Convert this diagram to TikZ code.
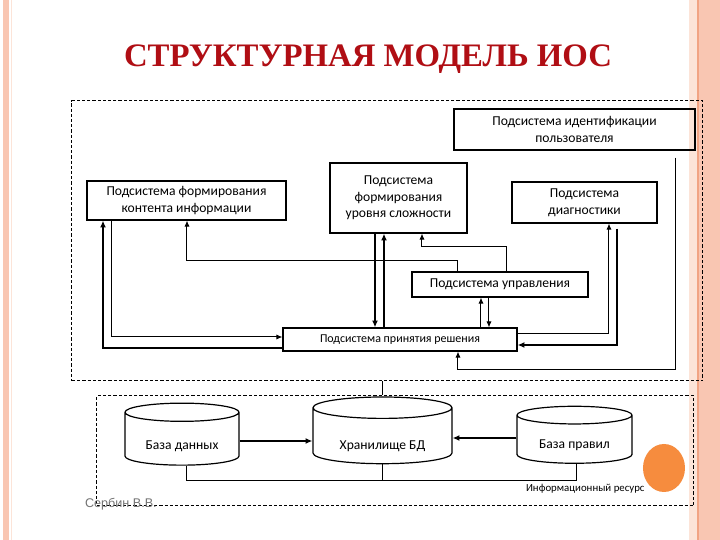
\documentclass[tikz,border=0pt]{standalone}
\usepackage{fontspec}
\setmainfont{Carlito}
\newfontfamily\titlefont{Liberation Serif}
\newfontfamily\authorfont{Liberation Sans}
\usetikzlibrary{arrows.meta,shapes.geometric}
\definecolor{titlered}{RGB}{176,14,20}
\definecolor{stripe}{RGB}{249,198,178}
\definecolor{stripelight}{RGB}{252,228,216}
\definecolor{stripeline}{RGB}{241,164,132}
\definecolor{dotorange}{RGB}{246,140,62}

\begin{document}
\begin{tikzpicture}[x=0.5pt, y=-0.5pt, every node/.style={font=\fontsize{6.8}{8.3}\selectfont}, box/.style={rectangle, draw=black, line width=0.6pt, align=center, inner sep=0pt}, frame/.style={rectangle, draw=black, dash pattern=on 1.6pt off 1pt, line width=0.5pt, inner sep=0pt}, base/.style={cylinder, shape border rotate=90, aspect=0.25, draw=black, line width=0.6pt, align=center, inner sep=0pt, text depth=1.5pt}, arrow/.style={-{Latex[length=3pt,width=2.6pt]}, line width=0.5pt}, fatarrow/.style={-{Latex[length=3.4pt,width=3pt]}, line width=1pt}, link/.style={line width=0.5pt}]
\useasboundingbox (0,0) rectangle (720,540);
% slide background
\fill[white] (0,0) rectangle (720,540);
\fill[stripe] (3,0) rectangle (9,540);
\draw[stripelight, line width=0.5pt] (11.5,0) -- (11.5,540);
\fill[stripelight] (689,0) rectangle (720,540);
\fill[stripe] (697,0) rectangle (720,540);
\draw[stripeline, line width=0.6pt] (698,0) -- (698,540);
% title
\node[font=\titlefont\bfseries\fontsize{16.4}{20}\selectfont, text=titlered] (title) at (368,59) {СТРУКТУРНАЯ МОДЕЛЬ ИОС};
% frames
\node[frame, minimum width=315.5pt, minimum height=140pt] (upper) at (387.5,241) {};
\node[frame, minimum width=298.5pt, minimum height=55pt] (lower) at (395.5,451) {};
% subsystems
\node[box, minimum width=120.5pt, minimum height=20.5pt] (ident) at (574.5,129.5) {Подсистема идентификации\\пользователя};
\node[box, minimum width=99.5pt, minimum height=19.5pt] (content) at (186.5,200.5) {Подсистема формирования\\контента информации};
\node[box, minimum width=68.5pt, minimum height=35pt] (level) at (398.5,198) {Подсистема\\формирования\\уровня сложности};
\node[box, minimum width=72.5pt, minimum height=20.5pt] (diag) at (584.5,202.5) {Подсистема\\диагностики};
\node[box, minimum width=88pt, minimum height=12.5pt] (control) at (500,284.5) {Подсистема управления};
\node[box, minimum width=117pt, minimum height=11.5pt, font=\fontsize{6}{7}\selectfont] (decision) at (400,339.5) {Подсистема принятия решения};
% information resource
\node[base, minimum width=57pt, minimum height=31pt, text height=12.5pt] (db) at (182,439) {База данных};
\node[base, minimum width=69.5pt, minimum height=30pt, text height=15.5pt] (store) at (382.5,436) {Хранилище БД};
\node[base, minimum width=57.5pt, minimum height=28.5pt, text height=10.5pt] (rules) at (574.5,439.5) {База правил};
\node[anchor=west, font=\fontsize{5.4}{6}\selectfont] (resource) at (519,489) {Информационный ресурс};
\node[ellipse, fill=dotorange, inner sep=0pt, minimum width=21pt, minimum height=24pt] (dot) at (664,468) {};
\node[anchor=west, text=black!55, font=\authorfont\fontsize{6.3}{7}\selectfont] (author) at (78,504) {Сербин В.В.};
% upper links
\draw[fatarrow] (decision.west |- 0,348) -| (content.south -| 103,0);
\draw[arrow] (content.south -| 112,0) |- (decision.west |- 0,337);
\draw[arrow] (control.north -| 458,0) |- (187,261) -- (content.south -| 187,0);
\draw[fatarrow] (level.south -| 375,0) -- (decision.north -| 375,0);
\draw[fatarrow] (decision.north -| 384,0) -- (level.south -| 384,0);
\draw[arrow] (control.north -| 507,0) |- (422,247) -- (level.south -| 422,0);
\draw[arrow] (decision.north -| 481,0) -- (control.south -| 481,0);
\draw[arrow] (control.south -| 489,0) -- (decision.north -| 489,0);
\draw[arrow] (decision.east |- 0,334) -| (diag.south -| 609,0);
\draw[fatarrow, shorten <=2.5pt] (diag.south -| 617,0) |- (decision.east |- 0,345);
\draw[arrow, shorten <=3.5pt] (ident.south -| 676,0) |- (458,370) -- (decision.south -| 458,0);
\draw[link] (upper.south -| 383,0) -- (lower.north -| 383,0);
% lower links
\draw[fatarrow] (db.east |- 0,441) -- (store.west |- 0,441);
\draw[fatarrow] (rules.west |- 0,438) -- (store.east |- 0,438);
\draw[link] (db.south -| 187,0) -- (187,481) -| (rules.south -| 577,0);
\draw[link] (store.south) -- (store.south |- 0,481);
\end{tikzpicture}
\end{document}
